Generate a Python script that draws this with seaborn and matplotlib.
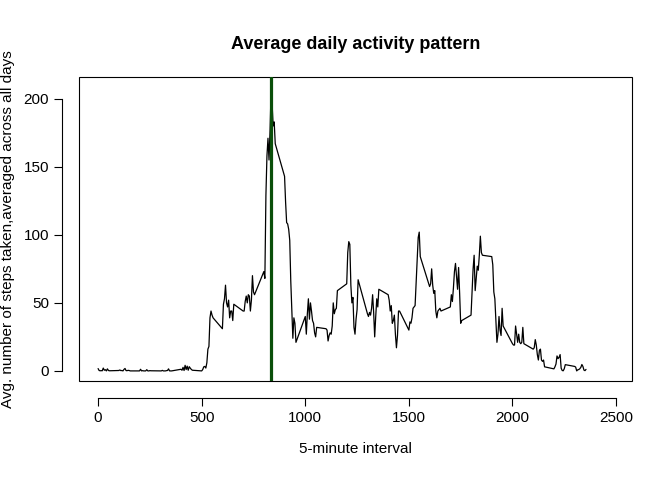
import matplotlib
matplotlib.use("Agg")
import matplotlib.pyplot as plt
import seaborn as sns
import pandas as pd
from matplotlib.patches import Rectangle

intervals = []
for h in range(24):
    for m in range(0, 60, 5):
        intervals.append(h * 100 + m)

steps = [
 1.7,0.3,0.1,0.2,0.1,2.1,0.5,0.9,0,1.5,0.3,0.1,
 0.3,0.7,0.2,0.3,0,1.1,1.8,0.2,0.2,0.4,0.3,0,
 0,1.2,0,0.2,0,0,0,0.9,0,0,0.2,0.1,
 0,0,0.4,0,0,0,0.2,0.3,1.5,0,0,0,
 1.2,0.5,2.6,0.3,4.1,1,3.5,0.5,3.1,2,1.1,0.5,
 0,1,3,3.3,2.1,6,16,18,39,44,41,39,
 31,49,53,63,50,47,52,39,44,44,37,49,
 44,44,51,55,50,56,55,44,52,70,58,56,
 73,68,129,158,171,155,177,206,196,180,183,167,
 143,124,109,108,104,96,66,45,24,39,35,21,
 40,27,42,53,38,50,44,37,35,28,25,32,
 31,30,22,26,28,27,33,50,42,45,46,59,
 64,87,95,93,63,50,54,32,27,38,45,67,
 42,40,43,41,46,56,43,25,40,53,47,60,
 56,52,44,48,35,37,41,27,17,26,44,44,
 30,36,35,39,46,47,48,65,83,98,102,84,
 62,64,75,63,57,59,44,39,44,45,46,44,
 47,56,51,61,73,79,69,60,76,57,35,37,
 41,58,75,85,59,68,77,74,85,99,87,85,
 84,78,58,53,37,21,27,40,30,26,46,33,
 20,19,19,33,27,21,27,21,20,21,32,20,
 16,17,23,19,12,8,15,16,8,7,8,3,
 1.5,3,5,11,9,10,12,2,0.3,0.1,1.6,4.6,
 3.3,2.8,0,0.8,1,1.6,2.6,4.7,3.3,0.6,0.2,1.1,
]
df = pd.DataFrame({"interval": intervals, "steps": steps})
max_interval = df.loc[df.steps.idxmax(), "interval"]

sns.set_style("white")
plt.rcParams["font.family"] = ["Liberation Sans", "DejaVu Sans"]
plt.rcParams["text.color"] = "black"
plt.rcParams["axes.labelcolor"] = "black"
fig = plt.figure(figsize=(6.72, 4.8), dpi=100)
ax = fig.add_axes([0.1176, 0.2063, 0.8229, 0.6333])
sns.lineplot(data=df, x="interval", y="steps", ax=ax, color="black", linewidth=0.9, sort=False)
ax.axvline(max_interval, color="#0a4f0a", linewidth=2.3)
ax.set_xlim(-92, 2577)
ax.set_ylim(-7.4, 216)
ax.set_xticks([0, 500, 1000, 1500, 2000, 2500])
ax.set_yticks([0, 50, 100, 150, 200])
ax.tick_params(direction="out", length=6, width=0.8, labelsize=11, colors="black", left=True, bottom=True)
for lab in ax.get_yticklabels():
    lab.set_rotation(90); lab.set_va("center")
for s in ["top", "right"]:
    ax.spines[s].set_visible(False)
ax.spines["bottom"].set_position(("outward", 12))
ax.spines["left"].set_position(("outward", 12))
ax.spines["bottom"].set_bounds(0, 2500)
ax.spines["left"].set_bounds(0, 200)
for s in ["bottom", "left"]:
    ax.spines[s].set_color("black"); ax.spines[s].set_linewidth(0.8)
ax.add_patch(Rectangle((0, 0), 1, 1, transform=ax.transAxes, fill=False, edgecolor="black", linewidth=0.8, clip_on=False))
ax.set_xlabel("5-minute interval", fontsize=11, labelpad=12)
ax.set_ylabel("Avg. number of steps taken,averaged across all days", fontsize=11, labelpad=6)
ax.set_title("Average daily activity pattern", fontsize=13, fontweight="bold", pad=20, color="black")
fig.savefig("out.png", dpi=100)
